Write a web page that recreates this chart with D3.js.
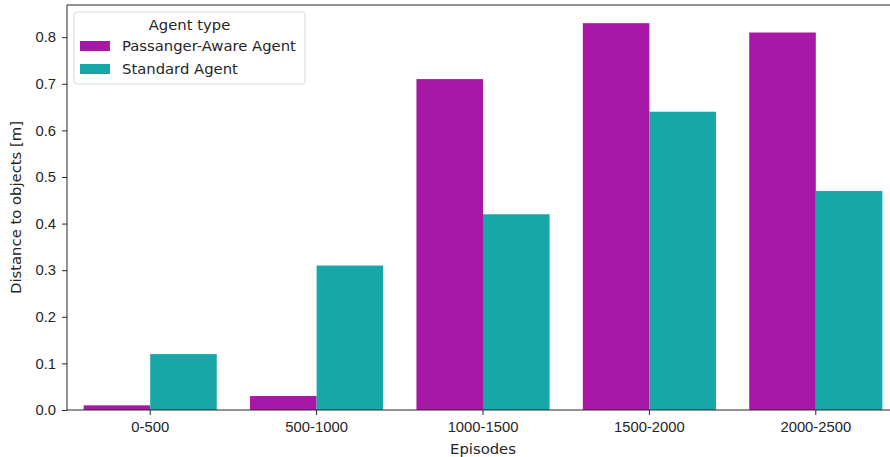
<!DOCTYPE html>
<html>
<head>
<meta charset="utf-8">
<script src="https://cdn.jsdelivr.net/npm/d3@7"></script>
<style>
  body { margin: 0; background: #fff; }
  svg { font-family: "DejaVu Sans", sans-serif; }
</style>
</head>
<body>
<script>
var episodes = ["0-500", "500-1000", "1000-1500", "1500-2000", "2000-2500"];
var agentTypes = ["Passanger-Aware Agent", "Standard Agent"];
var passengerAware = [0.01, 0.03, 0.71, 0.83, 0.81];
var standard = [0.12, 0.31, 0.42, 0.64, 0.47];
var yTicks = [0.0, 0.1, 0.2, 0.3, 0.4, 0.5, 0.6, 0.7, 0.8];

var colors = ["#a718a7", "#18a7a7"];
var seriesValues = [passengerAware, standard];

var width = 890, height = 457;
var margin = {top: 5, right: -9, bottom: 47, left: 67};
var fs = "14.8px";

var svg = d3.select("body").append("svg")
    .attr("width", width)
    .attr("height", height);

var x = d3.scaleBand()
    .domain(episodes)
    .range([margin.left, width - margin.right])
    .paddingInner(0.2)
    .paddingOuter(0.1);

var x1 = d3.scaleBand()
    .domain(agentTypes)
    .range([0, x.bandwidth()]);

var y = d3.scaleLinear()
    .domain([0, 0.869])
    .range([height - margin.bottom, margin.top]);

// bars
agentTypes.forEach(function(t, i) {
    svg.append("g").selectAll("rect")
        .data(seriesValues[i])
        .enter().append("rect")
        .attr("x", function(d, j) { return x(episodes[j]) + x1(t); })
        .attr("y", function(d) { return y(d); })
        .attr("width", x1.bandwidth())
        .attr("height", function(d) { return y(0) - y(d); })
        .attr("fill", colors[i]);
});

// x axis (ticks at band centres)
var xAxis = svg.append("g")
    .attr("transform", "translate(0," + (height - margin.bottom) + ")")
    .call(d3.axisBottom(x).tickSize(5).tickPadding(6).tickSizeOuter(0));
xAxis.select(".domain").remove();
xAxis.selectAll("text").style("font-size", fs).attr("fill", "#262626");
xAxis.selectAll("line").attr("stroke", "#262626");

var yAxis = svg.append("g")
    .attr("transform", "translate(" + margin.left + ",0)")
    .call(d3.axisLeft(y).tickValues(yTicks).tickFormat(d3.format(".1f")).tickSize(5).tickPadding(6));
yAxis.select(".domain").remove();
yAxis.selectAll("text").style("font-size", fs).attr("fill", "#262626");
yAxis.selectAll("line").attr("stroke", "#262626");

// spines
var x0 = margin.left, xR = width - margin.right, yT = margin.top, yB = height - margin.bottom;
svg.append("line").attr("x1", x0).attr("x2", x0).attr("y1", yT).attr("y2", yB).attr("stroke", "#262626");
svg.append("line").attr("x1", x0).attr("x2", xR).attr("y1", yB).attr("y2", yB).attr("stroke", "#262626");
svg.append("line").attr("x1", x0).attr("x2", xR).attr("y1", yT).attr("y2", yT).attr("stroke", "#262626");

// axis labels
svg.append("text")
    .attr("x", (x0 + xR) / 2)
    .attr("y", 454)
    .attr("text-anchor", "middle")
    .style("font-size", fs)
    .attr("fill", "#262626")
    .text("Episodes");

svg.append("text")
    .attr("transform", "translate(21," + ((yT + yB) / 2) + ") rotate(-90)")
    .attr("text-anchor", "middle")
    .style("font-size", fs)
    .attr("fill", "#262626")
    .text("Distance to objects [m]");

// legend
var legend = svg.append("g").attr("transform", "translate(74,12)");
legend.append("rect")
    .attr("width", 231).attr("height", 72)
    .attr("rx", 3)
    .attr("fill", "#fff").attr("fill-opacity", 0.8)
    .attr("stroke", "#d9d9d9");
legend.append("text")
    .attr("x", 115.5).attr("y", 18)
    .attr("text-anchor", "middle")
    .style("font-size", fs)
    .attr("fill", "#262626")
    .text("Agent type");
agentTypes.forEach(function(t, i) {
    var row = legend.append("g").attr("transform", "translate(0," + (29 + i * 23) + ")");
    row.append("rect").attr("x", 6).attr("y", 0).attr("width", 30).attr("height", 10).attr("fill", colors[i]);
    row.append("text").attr("x", 48).attr("y", 10)
        .style("font-size", fs)
        .attr("fill", "#262626")
        .text(t);
});
</script>
</body>
</html>
